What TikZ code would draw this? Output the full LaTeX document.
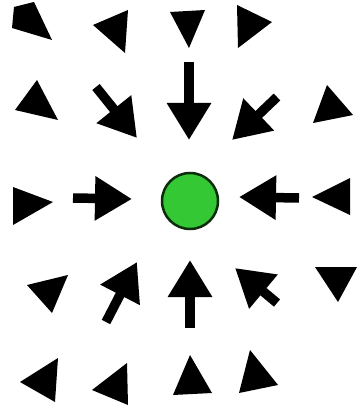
\documentclass[tikz,border=0pt]{standalone}
\usetikzlibrary{arrows.meta}
\definecolor{ballgreen}{RGB}{52,200,52}
\definecolor{balledge}{RGB}{12,45,12}
\tikzset{
  pointer/.style={line width=9.5pt,-{Triangle[length=37pt,width=42pt]}},
  head/.style={fill=black}
}
\begin{document}
\begin{tikzpicture}[x=1pt,y=-1pt]
\useasboundingbox (0,0) rectangle (358,414);
% centre ball
\node[circle,fill=ballgreen,draw=balledge,line width=2.5pt,minimum size=56pt,inner sep=0pt] (ball) at (190,201) {};
% arrows with shafts
\coordinate (a1s) at (73,198);  \coordinate (a1t) at (132,199);
\coordinate (a2s) at (299,198); \coordinate (a2t) at (239,197);
\coordinate (a3s) at (189,62);  \coordinate (a3t) at (189,140);
\coordinate (a4s) at (190,328); \coordinate (a4t) at (190,260);
\coordinate (a5s) at (96,87);   \coordinate (a5t) at (137,138);
\coordinate (a6s) at (277,97);  \coordinate (a6t) at (232,140);
\coordinate (a7s) at (106,322); \coordinate (a7t) at (137,262);
\coordinate (a8s) at (277,303); \coordinate (a8t) at (235,268);
\foreach \i in {1,...,8}{\draw[pointer] (a\i s) -- (a\i t);}
% loose heads
\fill[head] (14,7) -- (34,2) -- (52,40) -- (12,28) -- cycle;
\fill[head] (93,25) -- (128,10) -- (125,53) -- cycle;
\fill[head] (170,12) -- (205,10) -- (189,48) -- cycle;
\fill[head] (237,5) -- (272,22) -- (238,48) -- cycle;
\fill[head] (37,80) -- (15,110) -- (58,120) -- cycle;
\fill[head] (327,85) -- (313,123) -- (353,115) -- cycle;
\fill[head] (13,187) -- (13,225) -- (53,202) -- cycle;
\fill[head] (312,197) -- (350,178) -- (350,215) -- cycle;
\fill[head] (27,285) -- (68,275) -- (52,313) -- cycle;
\fill[head] (315,267) -- (357,267) -- (338,302) -- cycle;
\fill[head] (20,382) -- (58,358) -- (55,402) -- cycle;
\fill[head] (92,390) -- (127,363) -- (128,405) -- cycle;
\fill[head] (190,355) -- (173,395) -- (212,393) -- cycle;
\fill[head] (250,350) -- (239,393) -- (278,385) -- cycle;
\end{tikzpicture}
\end{document}
